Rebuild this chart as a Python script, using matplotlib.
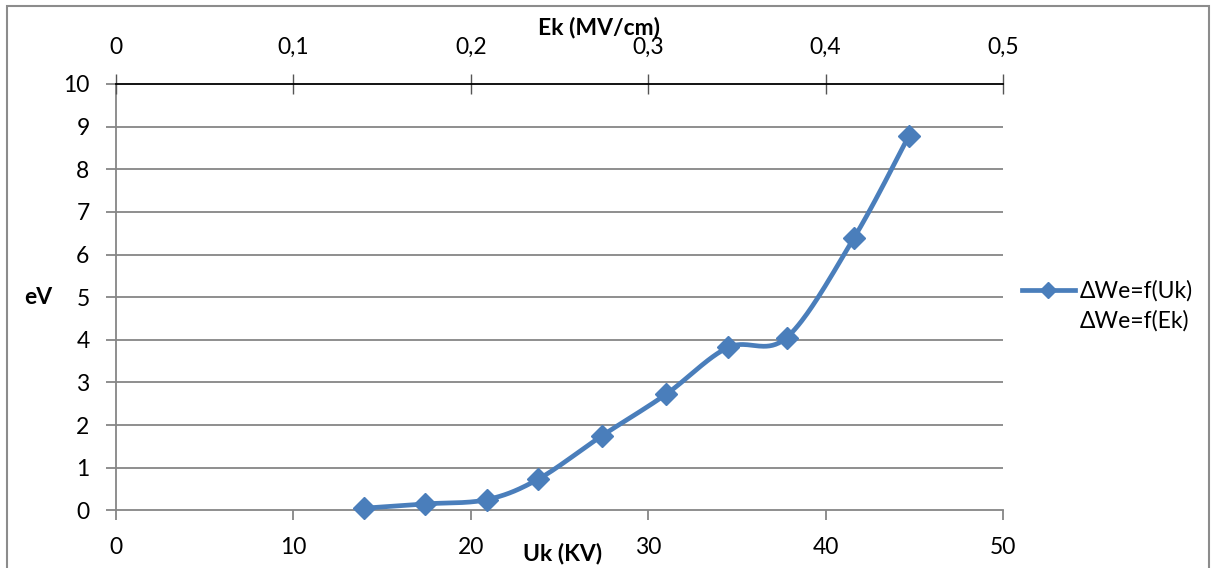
import numpy as np
import matplotlib
matplotlib.use("Agg")
import matplotlib.pyplot as plt
from matplotlib.lines import Line2D
from matplotlib.patches import Rectangle
from matplotlib.ticker import FuncFormatter

plt.rcParams['font.family'] = ['Lato', 'DejaVu Sans']

# Measured data
uk_kv = [14.0, 17.4, 20.9, 23.8, 27.4, 31.0, 34.5, 37.8, 41.6, 44.7]
delta_we_ev = [0.05, 0.15, 0.25, 0.73, 1.75, 2.72, 3.82, 4.05, 6.39, 8.79]

x_ticks = [0, 10, 20, 30, 40, 50]
y_ticks = list(range(0, 11))
ek_ticks = [0, 0.1, 0.2, 0.3, 0.4, 0.5]

BLUE = '#4A7EBB'
GRID = '#868686'
FS = 16.5


def smooth_curve(xs, ys, n=40):
    """Smoothed line through the points (cubic Bezier, Catmull-Rom handles)."""
    pts = np.column_stack([xs, ys]).astype(float)
    out = []
    for i in range(len(pts) - 1):
        p0 = pts[i - 1] if i > 0 else pts[i]
        p1 = pts[i]
        p2 = pts[i + 1]
        p3 = pts[i + 2] if i + 2 < len(pts) else pts[i + 1]
        c1 = p1 + (p2 - p0) / 6.0
        c2 = p2 - (p3 - p1) / 6.0
        t = np.linspace(0, 1, n)[:, None]
        seg = ((1 - t) ** 3) * p1 + 3 * ((1 - t) ** 2) * t * c1 \
            + 3 * (1 - t) * t ** 2 * c2 + t ** 3 * p2
        out.append(seg if i == 0 else seg[1:])
    seg = np.vstack(out)
    return seg[:, 0], seg[:, 1]


W, H = 1211, 568
fig = plt.figure(figsize=(W / 100, H / 100), dpi=100)

# outer chart frame
fig.patches.append(Rectangle((7 / W, -0.05), (1209 - 7) / W, 1.05 - 6 / H,
                             transform=fig.transFigure, fill=False,
                             edgecolor='#8c8c8c', linewidth=1.5))

left, right = 116 / W, 1003 / W
bottom, top = 1 - 510.3 / H, 1 - 84 / H
ax = fig.add_axes([left, bottom, right - left, top - bottom])

ax.set_xlim(0, 50)
ax.set_ylim(0, 10)
ax.set_xticks(x_ticks)
ax.set_yticks(y_ticks)

ax.spines['right'].set_visible(False)
ax.spines['top'].set_visible(False)
ax.spines['left'].set_color(GRID)
ax.spines['left'].set_linewidth(1.3)
ax.spines['bottom'].set_color(GRID)
ax.spines['bottom'].set_linewidth(1.3)

for yv in y_ticks[1:-1]:
    ax.axhline(yv, color=GRID, linewidth=1.3, zorder=1)

ax.tick_params(axis='both', labelsize=FS, colors=GRID, labelcolor='black',
               length=7, width=1.3)
ax.tick_params(axis='x', pad=12)
ax.tick_params(axis='y', pad=12)

# secondary (top) axis
axt = ax.twiny()
axt.set_xlim(0, 0.5)
axt.set_xticks(ek_ticks)
axt.xaxis.set_major_formatter(FuncFormatter(
    lambda v, p: '0' if abs(v) < 1e-9 else f'{v:.1f}'.replace('.', ',')))
for s in ('left', 'right', 'bottom'):
    axt.spines[s].set_visible(False)
axt.spines['top'].set_color('black')
axt.spines['top'].set_linewidth(1.3)
axt.tick_params(axis='x', direction='inout', length=14, width=1.0,
                colors='#555555', labelcolor='black', labelsize=FS, pad=12)

# data series
sx, sy = smooth_curve(uk_kv, delta_we_ev)
ax.plot(sx, sy, color=BLUE, linewidth=3.4, solid_capstyle='round', zorder=3,
        clip_on=False)
ax.plot(uk_kv, delta_we_ev, linestyle='none', marker='D', markersize=11.5,
        color=BLUE, zorder=4, clip_on=False)

# axis titles
fig.text(599 / W, 1 - 28 / H, 'Ek (MV/cm)', fontsize=FS, fontweight='bold',
         ha='center', va='center')
fig.text(563 / W, 1 - 554 / H, 'Uk (KV)', fontsize=FS, fontweight='bold',
         ha='center', va='center')
fig.text(38 / W, 1 - 297 / H, 'eV', fontsize=FS, fontweight='bold',
         ha='center', va='center')

# legend
h1 = Line2D([], [], color=BLUE, linewidth=3.4, marker='D', markersize=8)
h2 = Line2D([], [], linestyle='none')
fig.legend([h1, h2], ['ΔWe=f(Uk)', 'ΔWe=f(Ek)'], loc='center left',
           bbox_to_anchor=(1022 / W, 1 - 306 / H), frameon=False,
           fontsize=FS, handlelength=2.3, handletextpad=0.2,
           labelspacing=0.35, borderpad=0, borderaxespad=0)

fig.savefig('out.png', dpi=100)
